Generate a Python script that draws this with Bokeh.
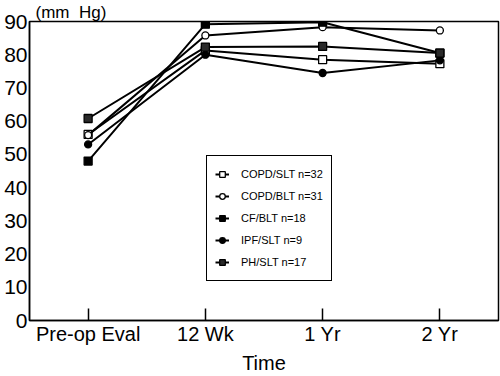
from bokeh.plotting import figure
from bokeh.models import FixedTicker, Legend, LegendItem, Range1d
from bokeh.embed import file_html
from bokeh.resources import INLINE

time_labels = ["Pre-op Eval", "12 Wk", "1 Yr", "2 Yr"]
time_pos = [0, 1, 2, 3]

copd_slt = [56.0, 81.3, 78.5, 77.3]
copd_blt = [55.8, 85.8, 88.3, 87.3]
cf_blt = [48.0, 89.2, 89.8, 80.5]
ipf_slt = [53.0, 80.0, 74.5, 78.3]
ph_slt = [60.8, 82.3, 82.5, 80.5]

series = [
    ("COPD/SLT n=32", copd_slt, "square", "white", 8),
    ("COPD/BLT n=31", copd_blt, "circle", "white", 7),
    ("CF/BLT n=18", cf_blt, "square", "black", 8),
    ("IPF/SLT n=9", ipf_slt, "circle", "black", 7),
    ("PH/SLT n=17", ph_slt, "square", "#2a2a2a", 8),
]

FONT = "Liberation Sans"

p = figure(width=500, height=376, output_backend="svg", toolbar_location=None,
           x_range=Range1d(-0.5, 3.5), y_range=Range1d(0, 90),
           min_border_left=29, min_border_right=2, min_border_top=20,
           min_border_bottom=56)

p.title.text = "(mm\u00a0\u00a0Hg)"
p.title.text_font = FONT
p.title.text_font_size = "17px"
p.title.text_font_style = "normal"
p.title.text_color = "black"
p.title.align = "left"
p.title.offset = 6
p.title.standoff = 0

p.xgrid.visible = False
p.ygrid.visible = False
p.outline_line_color = "black"
p.outline_line_width = 1.5
p.outline_line_alpha = 1.0
p.background_fill_color = "white"
p.border_fill_color = "white"

items = []
for name, vals, marker, fill, size in series:
    r_line = p.line(time_pos, vals, line_color="black", line_width=2)
    r_pt = p.scatter(time_pos, vals, marker=marker, size=size, fill_color=fill,
                     line_color="black", line_width=1.3)
    items.append(LegendItem(label=name, renderers=[r_line, r_pt]))

legend = Legend(items=items, location=(177, 39), margin=0, padding=8,
                spacing=2, label_height=20, glyph_height=20, glyph_width=14,
                label_standoff=12, label_text_font=FONT,
                label_text_font_size="11px", label_text_color="black",
                border_line_color="black", border_line_width=1.5,
                border_line_alpha=1.0, background_fill_alpha=1.0)
p.add_layout(legend, "center")

xa = p.xaxis[0]
xa.ticker = FixedTicker(ticks=time_pos)
xa.major_label_overrides = {i: t for i, t in zip(time_pos, time_labels)}
xa.major_label_text_font = FONT
xa.major_label_text_font_size = "20px"
xa.major_label_text_color = "black"
xa.major_tick_in = 12
xa.major_tick_out = 0
xa.minor_tick_in = 0
xa.minor_tick_out = 0
xa.axis_line_width = 1.5
xa.axis_line_color = "black"
xa.major_tick_line_width = 1.5
xa.major_tick_line_color = "black"
xa.major_label_standoff = 2
xa.axis_label = "Time"
xa.axis_label_text_font = FONT
xa.axis_label_text_font_size = "20px"
xa.axis_label_text_font_style = "normal"
xa.axis_label_text_color = "black"
xa.axis_label_standoff = 4

ya = p.yaxis[0]
ya.ticker = FixedTicker(ticks=list(range(0, 91, 10)))
ya.major_label_text_font = FONT
ya.major_label_text_font_size = "21px"
ya.major_label_text_color = "black"
ya.major_tick_in = 0
ya.major_tick_out = 0
ya.minor_tick_in = 0
ya.minor_tick_out = 0
ya.axis_line_width = 1.5
ya.axis_line_color = "black"
ya.major_label_standoff = 2

open("out.html", "w").write(file_html(p, INLINE))
